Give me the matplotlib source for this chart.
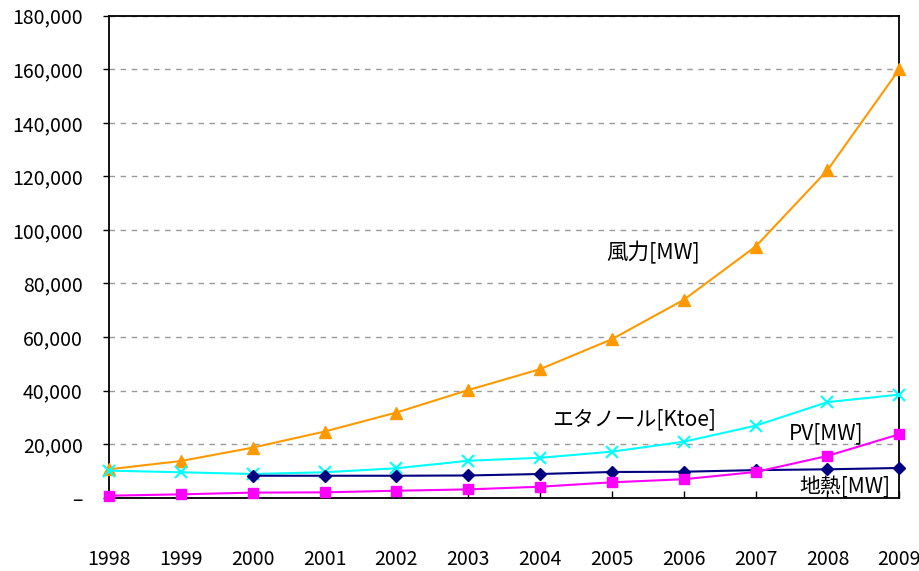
import matplotlib
matplotlib.use("Agg")
import matplotlib.pyplot as plt
from matplotlib.ticker import FuncFormatter, MultipleLocator

plt.rcParams['font.family'] = ['Noto Sans CJK JP', 'DejaVu Sans']

years = [1998, 1999, 2000, 2001, 2002, 2003, 2004, 2005, 2006, 2007, 2008, 2009]
wind = [10600, 13700, 18700, 24700, 31800, 40200, 48000, 59200, 73900, 93800, 122300, 160000]
ethanol = [10100, 9500, 8850, 9500, 11000, 13800, 14900, 17200, 20900, 26900, 35700, 38500]
geo_years = [2000, 2001, 2002, 2003, 2004, 2005, 2006, 2007, 2008, 2009]
geothermal = [8200, 8200, 8200, 8300, 8850, 9600, 9700, 10300, 10600, 11100]
pv = [750, 1250, 1900, 2000, 2600, 3100, 4100, 5750, 6900, 9600, 15600, 23700]

labels = ['風力[MW]', 'エタノール[Ktoe]', 'PV[MW]', '地熱[MW]']

fig = plt.figure(figsize=(9.19, 5.71), dpi=100)
ax = fig.add_axes([109/919, 1-497.7/571, (899.3-109)/919, (497.7-15.7)/571])

ax.plot(years, wind, color='#FF9900', marker='^', markersize=8, lw=1.5, clip_on=False, zorder=3)
ax.plot(years, ethanol, color='#00FFFF', marker='x', markersize=9, mew=1.5, lw=1.5, clip_on=False, zorder=4)
ax.plot(geo_years, geothermal, color='#000080', marker='D', markersize=6, lw=1.5, clip_on=False, zorder=5)
ax.plot(years, pv, color='#FF00FF', marker='s', markersize=7, lw=1.5, clip_on=False, zorder=6)

ax.set_xlim(1998, 2009)
ax.set_ylim(0, 180000)
ax.yaxis.set_major_locator(MultipleLocator(20000))
ax.set_xticks(years)
ax.yaxis.set_major_formatter(FuncFormatter(lambda v, p: '–' if v == 0 else f'{v:,.0f}'))
ax.grid(axis='y', color='#999999', linestyle=(0, (4, 4)), linewidth=1)
ax.set_axisbelow(True)

for s in ax.spines.values():
    s.set_linewidth(1.3)
    s.set_color('black')

ax.tick_params(axis='x', direction='in', length=5, pad=37, labelsize=14, width=1)
ax.tick_params(axis='y', direction='out', length=4, pad=15, labelsize=14, width=1)

ax.text(2005.57, 91400, labels[0], fontsize=15.5, va='center', ha='center')
ax.text(2005.31, 29400, labels[1], fontsize=15, va='center', ha='center')
ax.text(2007.98, 24200, labels[2], fontsize=15, va='center', ha='center')
ax.text(2008.24, 4000, labels[3], fontsize=15, va='center', ha='center')

fig.savefig('out.png', dpi=100)
